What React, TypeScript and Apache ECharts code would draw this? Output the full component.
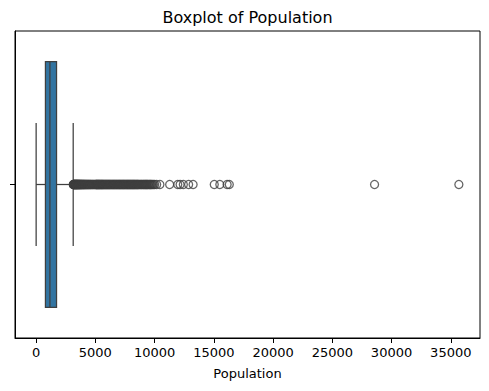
import React, { useEffect, useRef } from "react";
import * as echarts from "echarts";

const TITLE = "Boxplot of Population";
const X_NAME = "Population";
const X_TICKS = [0, 5000, 10000, 15000, 20000, 25000, 30000, 35000];
const X_MIN = -1781;
const X_MAX = 37466;

// whiskerLow, Q1, median, Q3, whiskerHigh
const BOX_STATS = [3, 787, 1166, 1725, 3131];

const OUTLIERS = [
  3134, 3152, 3171, 3189, 3204, 3228, 3249, 3263, 3287, 3305, 3326, 3341, 3368, 3385, 3402,
  3427, 3446, 3469, 3488, 3512, 3537, 3561, 3584, 3609, 3633, 3658, 3681, 3707, 3736, 3762,
  3791, 3818, 3847, 3879, 3906, 3941, 3973, 4008, 4042, 4077, 4115, 4152, 4189, 4231, 4270,
  4312, 4356, 4398, 4443, 4490, 4537, 4585, 4633, 4689, 4741, 4796, 4853, 4910, 4972, 5034,
  5067, 5097, 5130, 5161, 5196, 5228, 5263, 5302, 5334, 5369, 5405, 5443, 5481, 5518, 5557,
  5596, 5633, 5672, 5711, 5754, 5793, 5836, 5877, 5919, 5961, 6004, 6048, 6092, 6135, 6177,
  6219, 6263, 6308, 6352, 6399, 6446, 6489, 6533, 6577, 6621, 6668, 6713, 6759, 6804, 6851,
  6897, 6941, 6985, 7029, 7074, 7118, 7163, 7209, 7255, 7301, 7348, 7389, 7431, 7478, 7524,
  7571, 7617, 7660, 7705, 7751, 7797, 7840, 7884, 7930, 7976, 8021, 8066, 8109, 8153, 8198,
  8242, 8287, 8331, 8379, 8427, 8473, 8519, 8566, 8612, 8672, 8733, 8796, 8860, 8921, 8985,
  9043, 9102, 9157, 9212, 9265, 9317, 9372, 9427, 9491, 9556, 9614, 9672, 9738, 9804, 9905,
  10005, 10173, 10450, 11272, 11956, 12153, 12427, 12873, 13251, 15037, 15507, 16122, 16305,
  28566, 35682,
];

const BOX_FILL = "#3274a1";
const LINE = "#3f3f3f";
const FONT = "DejaVu Sans";

export default function App() {
  const ref = useRef<HTMLDivElement>(null);
  useEffect(() => {
    if (!ref.current) return;
    document.body.style.margin = "0";
    const chart = echarts.init(ref.current, null, { renderer: "svg" });
    chart.setOption({
      animation: false,
      textStyle: { fontFamily: FONT },
      graphic: [
        {
          type: "text",
          x: 247.5,
          y: 17,
          style: {
            text: TITLE,
            fontFamily: FONT,
            fontSize: 16,
            fill: "#000",
            align: "center",
            verticalAlign: "middle",
          },
        },
      ],
      grid: {
        left: 15,
        right: 9,
        top: 31,
        bottom: 53,
        show: true,
        borderColor: "#000",
        borderWidth: 1,
        containLabel: false,
      },
      xAxis: {
        type: "value",
        min: X_MIN,
        max: X_MAX,
        name: X_NAME,
        nameLocation: "middle",
        nameGap: 29,
        nameTextStyle: { fontFamily: FONT, fontSize: 13, color: "#000" },
        axisLine: { show: true, onZero: false, lineStyle: { color: "#000", width: 1 } },
        axisTick: { show: true, length: 5, customValues: X_TICKS, lineStyle: { color: "#000" } },
        axisLabel: {
          show: true,
          customValues: X_TICKS,
          margin: 8,
          fontFamily: FONT,
          fontSize: 13,
          color: "#000",
          formatter: (v: number) => String(v),
        },
        splitLine: { show: false },
      },
      yAxis: {
        type: "value",
        min: -0.5,
        max: 0.5,
        axisLine: { show: true, onZero: false, lineStyle: { color: "#000", width: 1 } },
        axisTick: { show: true, length: 5, customValues: [0], lineStyle: { color: "#000" } },
        axisLabel: { show: false },
        splitLine: { show: false },
      },
      series: [
        {
          type: "custom",
          dimensions: ["low", "q1", "med", "q3", "high"],
          encode: { x: [0, 1, 2, 3, 4] },
          data: [BOX_STATS],
          z: 2,
          renderItem: (params: any, api: any) => {
            const low = api.value(0);
            const q1 = api.value(1);
            const med = api.value(2);
            const q3 = api.value(3);
            const high = api.value(4);
            const c = (x: number, y: number) => api.coord([x, y]);
            const yc = c(0, 0)[1];
            const yb1 = c(0, 0.4)[1];
            const yb2 = c(0, -0.4)[1];
            const yk1 = c(0, 0.2)[1];
            const yk2 = c(0, -0.2)[1];
            const xl = c(low, 0)[0];
            const x1 = c(q1, 0)[0];
            const xm = c(med, 0)[0];
            const x3 = c(q3, 0)[0];
            const xh = c(high, 0)[0];
            const ls = { stroke: LINE, lineWidth: 1.25 };
            return {
              type: "group",
              children: [
                { type: "line", shape: { x1: xl, y1: yc, x2: x1, y2: yc }, style: ls },
                { type: "line", shape: { x1: x3, y1: yc, x2: xh, y2: yc }, style: ls },
                { type: "line", shape: { x1: xl, y1: yk1, x2: xl, y2: yk2 }, style: ls },
                { type: "line", shape: { x1: xh, y1: yk1, x2: xh, y2: yk2 }, style: ls },
                {
                  type: "rect",
                  shape: { x: x1, y: yb1, width: x3 - x1, height: yb2 - yb1 },
                  style: { fill: BOX_FILL, stroke: LINE, lineWidth: 1.25 },
                },
                { type: "line", shape: { x1: xm, y1: yb1, x2: xm, y2: yb2 }, style: ls },
              ],
            };
          },
        },
        {
          type: "scatter",
          data: OUTLIERS.map((v) => [v, 0]),
          symbol: "circle",
          symbolSize: 8,
          z: 3,
          itemStyle: { color: "rgba(0,0,0,0)", borderColor: LINE, borderWidth: 1.3 },
        },
      ],
    });
    return () => chart.dispose();
  }, []);
  return <div ref={ref} style={{ width: 489, height: 391 }} />;
}
